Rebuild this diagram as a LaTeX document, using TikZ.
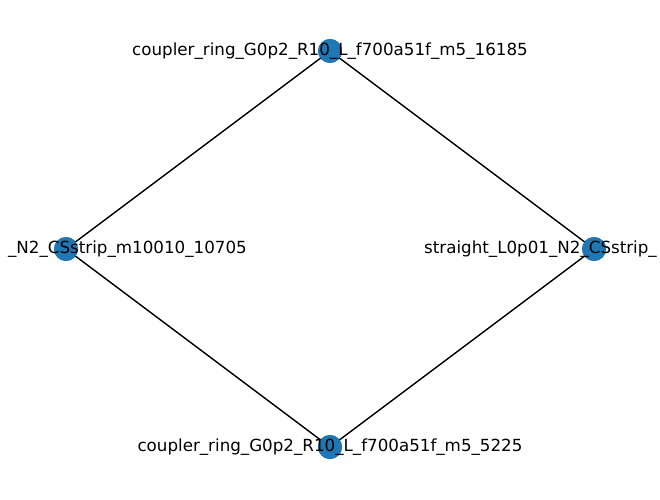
\documentclass[tikz,border=0pt]{standalone}
\usepackage{fontspec}
\setmainfont{DejaVu Sans}
\usetikzlibrary{positioning}
\definecolor{nodeblue}{HTML}{1F77B4}

\begin{document}
\begin{tikzpicture}[x=1pt, y=1pt,
  every node/.style={font=\fontsize{16.7}{20}\selectfont},
  vertex/.style={circle, fill=nodeblue, minimum size=24pt, inner sep=0pt},
  edge/.style={line width=1.4pt, black}]
\fill[white] (0,0) rectangle (660,499);
\useasboundingbox (0,0) rectangle (660,499);
% vertices
\node[vertex] (ringtop) at (330,448) {};
\node[vertex] (strleft) at (66,250) {};
\node[vertex] (strright) at (594,250) {};
\node[vertex] (ringbot) at (330,52) {};
% edges
\draw[edge] (ringtop.center) -- (strleft.center);
\draw[edge] (ringtop.center) -- (strright.center);
\draw[edge] (strleft.center) -- (ringbot.center);
\draw[edge] (strright.center) -- (ringbot.center);
% redraw vertices over edges
\node[vertex] at (ringtop) {};
\node[vertex] at (strleft) {};
\node[vertex] at (strright) {};
\node[vertex] at (ringbot) {};
% labels
\node (ringtoplabel) at (ringtop) {coupler\_ring\_G0p2\_R10\_L\_f700a51f\_m5\_16185};
\node[anchor=east, inner sep=0pt] (strleftlabel) at ([xshift=181pt]strleft.center) {\_N2\_CSstrip\_m10010\_10705};
\node[anchor=west, inner sep=0pt] (strrightlabel) at ([xshift=-170pt]strright.center) {straight\_L0p01\_N2\_CSstrip\_};
\node (ringbotlabel) at (ringbot) {coupler\_ring\_G0p2\_R10\_L\_f700a51f\_m5\_5225};
\end{tikzpicture}
\end{document}
